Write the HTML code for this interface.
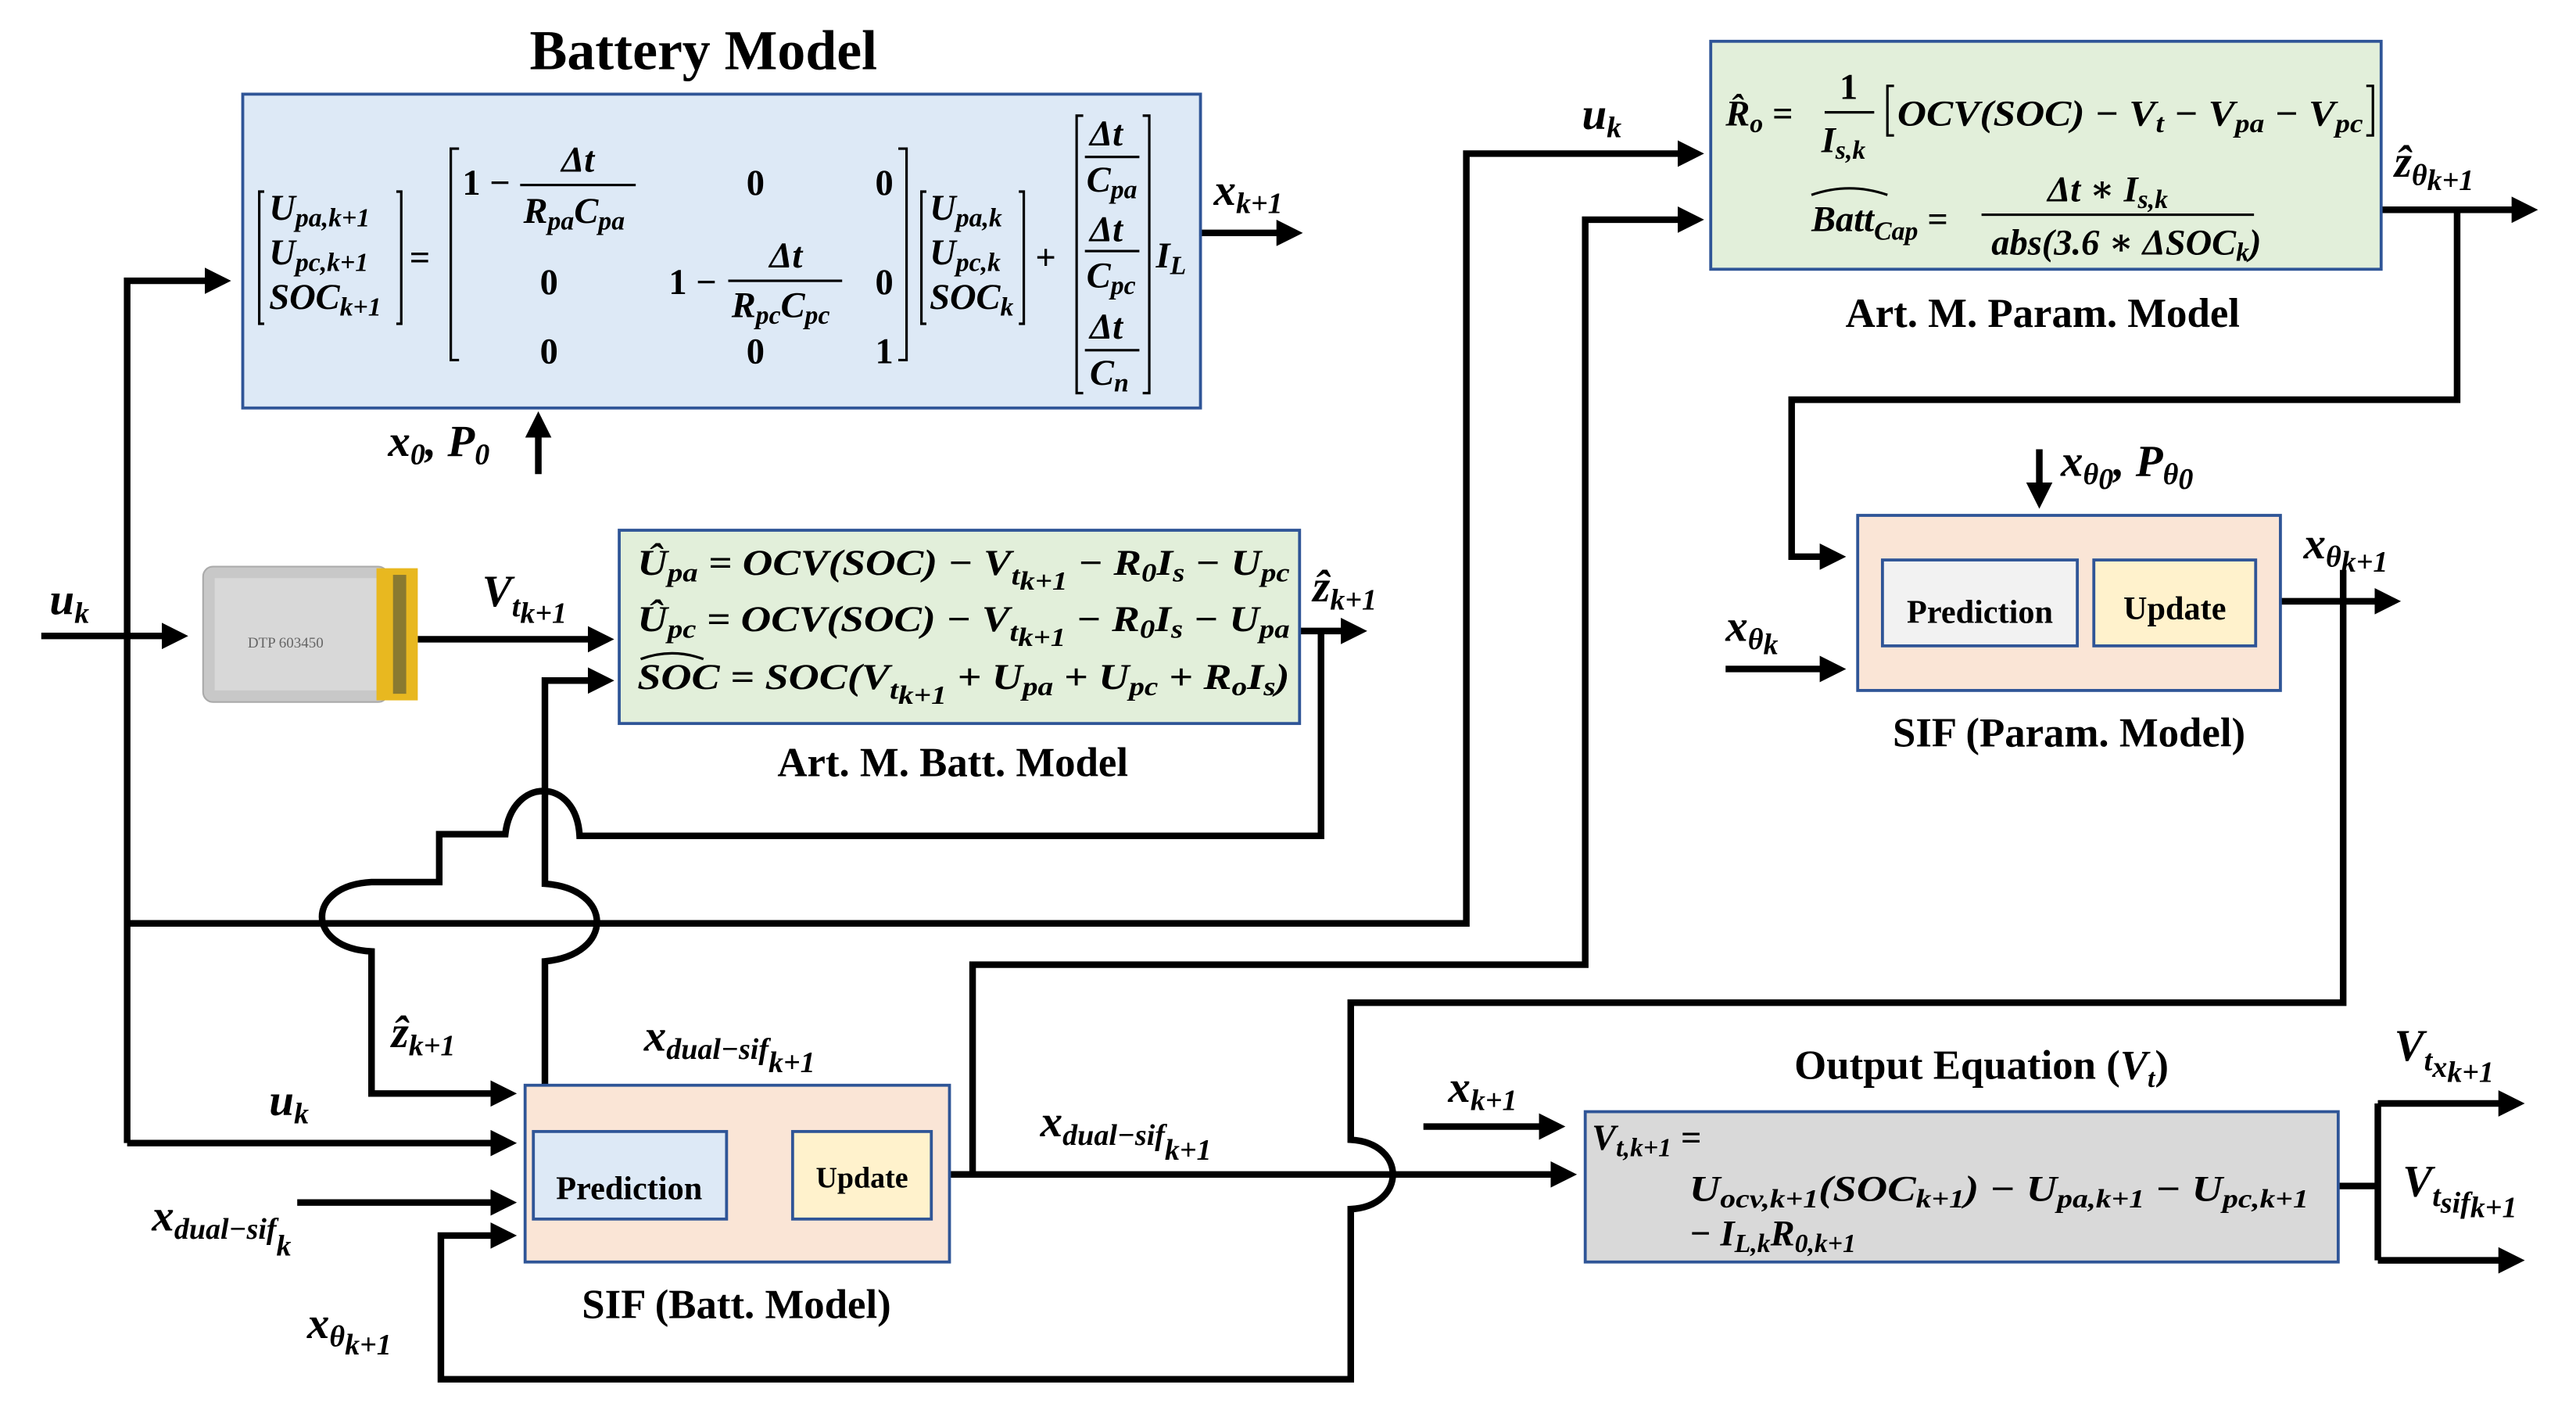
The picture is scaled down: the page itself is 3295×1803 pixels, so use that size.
<!DOCTYPE html>
<html><head><meta charset="utf-8"><style>
html,body{margin:0;padding:0;background:#fff}
svg{display:block}
text{font-family:"Liberation Serif","DejaVu Serif",serif;font-weight:bold;fill:#000}
.m{font-style:italic}
.s{font-size:16px}
.L{font-size:27px}
.L .s{font-size:18px}
</style></head><body>
<svg width="3295" height="1803" viewBox="0 0 1560 853.6" preserveAspectRatio="none" xmlns="http://www.w3.org/2000/svg" font-family="Liberation Serif, serif">
<defs>
<marker id="a" markerWidth="4" markerHeight="4" refX="3" refY="2" orient="auto" markerUnits="strokeWidth"><path d="M0,0 L4,2 L0,4 z" fill="#000"/></marker>
</defs>
<g fill="none" stroke="#000" stroke-width="4">
<path d="M77,692 L77,170 L136,170" marker-end="url(#a)"/>
<path d="M727,141 L785,141" marker-end="url(#a)"/>
<path d="M326,287 L326,253" marker-end="url(#a)"/>
<path d="M25,385 L110,385" marker-end="url(#a)"/>
<path d="M253,387 L368,387" marker-end="url(#a)"/>
<path d="M787,382 L824,382" marker-end="url(#a)"/>
<path d="M800,382 L800,506 L351,506 C349,470 310,470 306,505 L266,505 L266,534 L225,534 C185,536 185,574 225,576 L225,662 L309,662" marker-end="url(#a)"/>
<path d="M330,690 L330,582 C372,578 372,538 330,535 L330,412 L368,412" marker-end="url(#a)"/>
<path d="M77,559 L888,559 L888,93 L1028,93" marker-end="url(#a)"/>
<path d="M77,692 L309,692" marker-end="url(#a)"/>
<path d="M180,728 L309,728" marker-end="url(#a)"/>
<path d="M575,711 L589,711 L589,584 L960,584 L960,133 L1028,133" marker-end="url(#a)"/>
<path d="M575,711 L951,711" marker-end="url(#a)"/>
<path d="M1419,345 L1419,607 L818,607 L818,690 C852,692 852,730 818,732 L818,835 L267,835 L267,748 L309,748" marker-end="url(#a)"/>
<path d="M862,682 L944,682" marker-end="url(#a)"/>
<path d="M1416,718 L1440,718"/>
<path d="M1440,668 L1440,763"/>
<path d="M1440,668 L1525,668" marker-end="url(#a)"/>
<path d="M1440,763 L1525,763" marker-end="url(#a)"/>
<path d="M1442,127 L1533,127" marker-end="url(#a)"/>
<path d="M1488,127 L1488,242 L1085,242 L1085,337 L1114,337" marker-end="url(#a)"/>
<path d="M1235,272 L1235,304" marker-end="url(#a)"/>
<path d="M1045,405 L1114,405" marker-end="url(#a)"/>
<path d="M1381,364 L1450,364" marker-end="url(#a)"/>
</g>
<g stroke="#2f5597" stroke-width="1.8">
<rect x="147" y="57" width="580" height="190" fill="#dde9f6"/>
<rect x="375" y="321" width="412" height="117" fill="#e2efda"/>
<rect x="1036" y="25" width="406" height="138" fill="#e2efda"/>
<rect x="1125" y="312" width="256" height="106" fill="#fae5d6"/>
<rect x="1140" y="339" width="118" height="52" fill="#f2f2f2"/>
<rect x="1268" y="339" width="98" height="52" fill="#fff2cc"/>
<rect x="318" y="657" width="257" height="107" fill="#fae5d6"/>
<rect x="323" y="685" width="117" height="53" fill="#dde9f6"/>
<rect x="480" y="685" width="84" height="53" fill="#fff2cc"/>
<rect x="960" y="673" width="456" height="91" fill="#d9d9d9"/>
</g>
<rect x="123" y="343" width="112" height="82" rx="6" fill="#c8c8c8" stroke="#aaa"/>
<rect x="130" y="350" width="98" height="68" fill="#d8d8d8"/>
<rect x="228" y="344" width="25" height="80" fill="#e8b820"/>
<rect x="238" y="348" width="8" height="72" fill="#8a7a30"/>
<text x="150" y="392" style="font-size:9px;font-weight:normal;fill:#666">DTP 603450</text>
<g fill="none" stroke="#000" stroke-width="1.5">
<path d="M160,116 L157,116 L157,196 L160,196 M240,116 L243,116 L243,196 L240,196"/>
<path d="M278,90 L273,90 L273,218 L278,218 M544,90 L549,90 L549,218 L544,218"/>
<path d="M561,116 L558,116 L558,196 L561,196 M617,116 L620,116 L620,196 L617,196"/>
<path d="M656,70 L652,70 L652,238 L656,238 M692,70 L696,70 L696,238 L692,238"/>
<path d="M315,112 L385,112 M441,170 L510,170 M657,95 L690,95 M657,152 L690,152 M657,212 L690,212"/>
<path d="M1105,68 L1135,68 M1200,130 L1365,130"/>
<path d="M1147,52 L1143,52 L1143,82 L1147,82 M1433,52 L1437,52 L1437,82 L1433,82"/>
<path d="M388,399 Q407,392 426,399"/>
<path d="M1097,118 Q1120,110 1143,118"/>
</g>
<text x="426" y="42" text-anchor="middle" style="font-size:34px">Battery Model</text>
<text x="577" y="470" text-anchor="middle" style="font-size:25px">Art. M. Batt. Model</text>
<text x="1237" y="198" text-anchor="middle" style="font-size:25px">Art. M. Param. Model</text>
<text x="1253" y="452" text-anchor="middle" style="font-size:25px">SIF (Param. Model)</text>
<text x="446" y="798" text-anchor="middle" style="font-size:25px">SIF (Batt. Model)</text>
<text x="1200" y="653" text-anchor="middle" style="font-size:25px">Output Equation (<tspan class="m">V<tspan class="s" dy="5">t</tspan></tspan><tspan dy="-5">)</tspan></text>
<text x="381" y="726" text-anchor="middle" style="font-size:20px">Prediction</text>
<text x="522" y="719" text-anchor="middle" style="font-size:18px">Update</text>
<text x="1199" y="377" text-anchor="middle" style="font-size:20px">Prediction</text>
<text x="1317" y="375" text-anchor="middle" style="font-size:20px">Update</text>
<g class="m" style="font-size:22px">
<text x="163" y="133">U<tspan class="s" dy="4">pa,k+1</tspan></text>
<text x="163" y="160">U<tspan class="s" dy="4">pc,k+1</tspan></text>
<text x="163" y="187">SOC<tspan class="s" dy="4">k+1</tspan></text>
<text x="248" y="163" style="font-style:normal">=</text>
<text x="280" y="118" style="font-style:normal">1 −</text>
<text x="340" y="104">Δt</text>
<text x="317" y="135">R<tspan class="s" dy="4">pa</tspan><tspan dy="-4">C</tspan><tspan class="s" dy="4">pa</tspan></text>
<text x="452" y="118" style="font-style:normal">0</text>
<text x="530" y="118" style="font-style:normal">0</text>
<text x="327" y="178" style="font-style:normal">0</text>
<text x="405" y="178" style="font-style:normal">1 −</text>
<text x="466" y="162">Δt</text>
<text x="443" y="192">R<tspan class="s" dy="4">pc</tspan><tspan dy="-4">C</tspan><tspan class="s" dy="4">pc</tspan></text>
<text x="530" y="178" style="font-style:normal">0</text>
<text x="327" y="220" style="font-style:normal">0</text>
<text x="452" y="220" style="font-style:normal">0</text>
<text x="530" y="220" style="font-style:normal">1</text>
<text x="563" y="133">U<tspan class="s" dy="4">pa,k</tspan></text>
<text x="563" y="160">U<tspan class="s" dy="4">pc,k</tspan></text>
<text x="563" y="187">SOC<tspan class="s" dy="4">k</tspan></text>
<text x="627" y="163" style="font-style:normal">+</text>
<text x="660" y="88">Δt</text>
<text x="658" y="116">C<tspan class="s" dy="4">pa</tspan></text>
<text x="660" y="146">Δt</text>
<text x="658" y="174">C<tspan class="s" dy="4">pc</tspan></text>
<text x="660" y="205">Δt</text>
<text x="660" y="233">C<tspan class="s" dy="4">n</tspan></text>
<text x="700" y="162">I<tspan class="s" dy="4">L</tspan></text>
<text x="386" y="348" textLength="395" lengthAdjust="spacingAndGlyphs">Û<tspan class="s" dy="4">pa</tspan><tspan dy="-4"> = OCV(SOC) − V</tspan><tspan class="s" dy="6">t<tspan dy="3">k+1</tspan></tspan><tspan dy="-9"> − R</tspan><tspan class="s" dy="4">0</tspan><tspan dy="-4">I</tspan><tspan class="s" dy="4">s</tspan><tspan dy="-4"> − U</tspan><tspan class="s" dy="4">pc</tspan></text>
<text x="386" y="382" textLength="395" lengthAdjust="spacingAndGlyphs">Û<tspan class="s" dy="4">pc</tspan><tspan dy="-4"> = OCV(SOC) − V</tspan><tspan class="s" dy="6">t<tspan dy="3">k+1</tspan></tspan><tspan dy="-9"> − R</tspan><tspan class="s" dy="4">0</tspan><tspan dy="-4">I</tspan><tspan class="s" dy="4">s</tspan><tspan dy="-4"> − U</tspan><tspan class="s" dy="4">pa</tspan></text>
<text x="386" y="417" textLength="395" lengthAdjust="spacingAndGlyphs">SOC = SOC(V<tspan class="s" dy="6">t<tspan dy="3">k+1</tspan></tspan><tspan dy="-9"> + U</tspan><tspan class="s" dy="4">pa</tspan><tspan dy="-4"> + U</tspan><tspan class="s" dy="4">pc</tspan><tspan dy="-4"> + R</tspan><tspan class="s" dy="4">o</tspan><tspan dy="-4">I</tspan><tspan class="s" dy="4">s</tspan><tspan dy="-4">)</tspan></text>
<text x="1045" y="76">R̂<tspan class="s" dy="4">o</tspan><tspan dy="-4"> =</tspan></text>
<text x="1114" y="60" style="font-style:normal">1</text>
<text x="1103" y="92">I<tspan class="s" dy="4">s,k</tspan></text>
<text x="1149" y="76" textLength="282" lengthAdjust="spacingAndGlyphs">OCV(SOC) − V<tspan class="s" dy="4">t</tspan><tspan dy="-4"> − V</tspan><tspan class="s" dy="4">pa</tspan><tspan dy="-4"> − V</tspan><tspan class="s" dy="4">pc</tspan></text>
<text x="1097" y="140">Batt<tspan class="s" dy="5">Cap</tspan><tspan dy="-5"> =</tspan></text>
<text x="1240" y="122">Δt ∗ I<tspan class="s" dy="4">s,k</tspan></text>
<text x="1206" y="154">abs(3.6 ∗ ΔSOC<tspan class="s" dy="4">k</tspan><tspan dy="-4">)</tspan></text>
</g>
<g class="m L">
<text x="735" y="124">x<tspan class="s" dy="5">k+1</tspan></text>
<text x="235" y="276">x<tspan class="s" dy="5">0</tspan><tspan dy="-5">, P</tspan><tspan class="s" dy="5">0</tspan></text>
<text x="30" y="372">u<tspan class="s" dy="5">k</tspan></text>
<text x="292" y="367">V<tspan class="s" dy="6">t</tspan><tspan class="s" dy="4">k+1</tspan></text>
<text x="795" y="364">ẑ<tspan class="s" dy="5">k+1</tspan></text>
<text x="1450" y="107">ẑ<tspan class="s" dy="5">θ<tspan dy="3">k+1</tspan></tspan></text>
<text x="958" y="78">u<tspan class="s" dy="5">k</tspan></text>
<text x="1248" y="288">x<tspan class="s" dy="5">θ<tspan dy="3">0</tspan></tspan><tspan dy="-8">, P</tspan><tspan class="s" dy="5">θ<tspan dy="3">0</tspan></tspan></text>
<text x="1395" y="338">x<tspan class="s" dy="5">θ<tspan dy="3">k+1</tspan></tspan></text>
<text x="1045" y="388">x<tspan class="s" dy="5">θ<tspan dy="3">k</tspan></tspan></text>
<text x="237" y="634">ẑ<tspan class="s" dy="5">k+1</tspan></text>
<text x="390" y="636">x<tspan class="s" dy="5">dual−sif</tspan><tspan class="s" dy="8">k+1</tspan></text>
<text x="163" y="675">u<tspan class="s" dy="5">k</tspan></text>
<text x="92" y="745">x<tspan class="s" dy="5">dual−sif</tspan><tspan class="s" dy="10">k</tspan></text>
<text x="186" y="810">x<tspan class="s" dy="5">θ<tspan dy="5">k+1</tspan></tspan></text>
<text x="630" y="688">x<tspan class="s" dy="5">dual−sif</tspan><tspan class="s" dy="9">k+1</tspan></text>
<text x="877" y="667">x<tspan class="s" dy="5">k+1</tspan></text>
<text x="1450" y="642">V<tspan class="s" dy="6">t</tspan><tspan class="s" dy="4">x<tspan dy="3">k+1</tspan></tspan></text>
<text x="1455" y="724">V<tspan class="s" dy="6">t</tspan><tspan class="s" dy="4">sif<tspan dy="3">k+1</tspan></tspan></text>
</g>
<g class="m" style="font-size:22px">
<text x="964" y="696">V<tspan class="s" dy="4">t,k+1</tspan><tspan dy="-4"> =</tspan></text>
<text x="1023" y="727" textLength="375" lengthAdjust="spacingAndGlyphs">U<tspan class="s" dy="4">ocv,k+1</tspan><tspan dy="-4">(SOC</tspan><tspan class="s" dy="4">k+1</tspan><tspan dy="-4">) − U</tspan><tspan class="s" dy="4">pa,k+1</tspan><tspan dy="-4"> − U</tspan><tspan class="s" dy="4">pc,k+1</tspan></text>
<text x="1023" y="754">− I<tspan class="s" dy="4">L,k</tspan><tspan dy="-4">R</tspan><tspan class="s" dy="4">0,k+1</tspan></text>
</g>
</svg>
</body></html>
